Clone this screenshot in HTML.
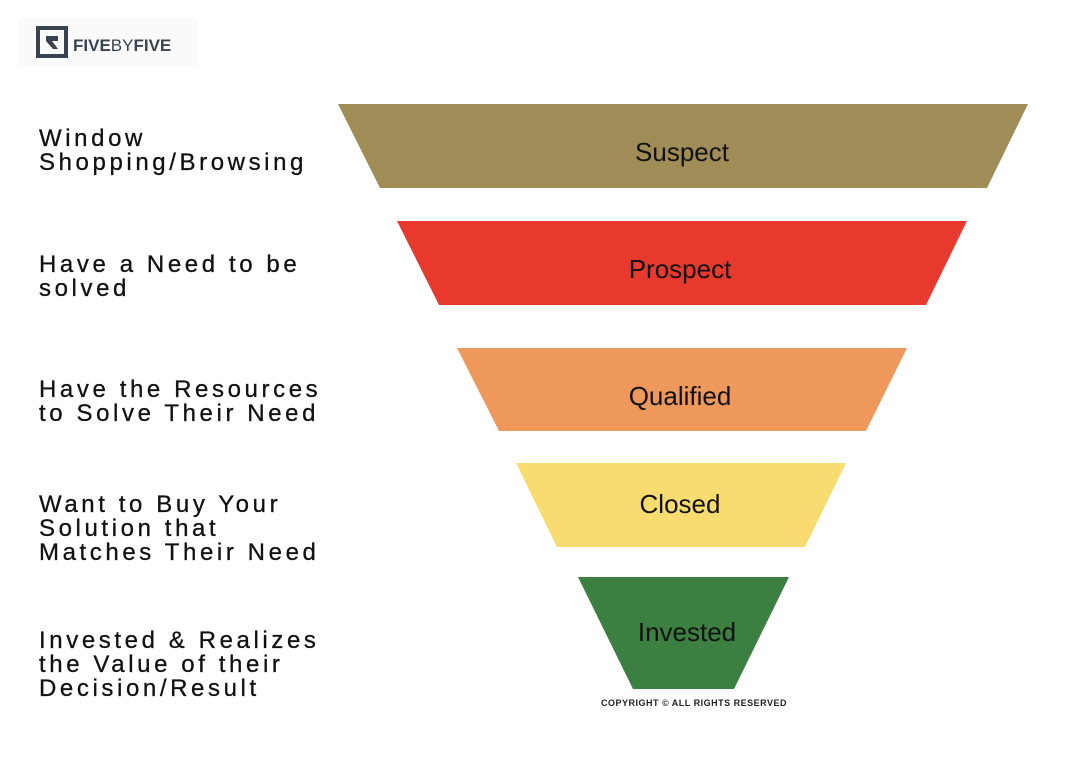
<!DOCTYPE html>
<html><head><meta charset="utf-8"><style>
body{margin:0;width:1082px;height:762px;background:#fff;position:relative;overflow:hidden;font-family:"Liberation Sans",sans-serif}
.l{position:absolute;left:39px;font-size:24px;line-height:24px;letter-spacing:3.6px;color:#111;white-space:nowrap;-webkit-text-stroke:0.3px #111}
svg{position:absolute;left:0;top:0}
</style></head><body>
<svg width="1082" height="762">
<rect x="18" y="18" width="180" height="48" fill="#fafafa"/>
<rect x="38" y="28" width="28" height="28" fill="none" stroke="#3a4450" stroke-width="4"/>
<path d="M46 36 H58 V41 H52 L58 49 H53 L46 41 Z" fill="#3a4450"/>
<text x="73" y="51" font-family="Liberation Sans" font-size="17" fill="#3a4450" font-weight="bold">FIVE<tspan font-weight="normal">BY</tspan>FIVE</text>
<polygon points="338,104 1028,104 987,188 380,188" fill="#a08c56"/>
<polygon points="397,221 967,221 926,305 439,305" fill="#e8392e"/>
<polygon points="457,348 907,348 866,431 499,431" fill="#ef985b"/>
<polygon points="516,463 846,463 805,547 557,547" fill="#f8dc6f"/>
<polygon points="578,577 789,577 734,689 633,689" fill="#3b7f41"/>
<g font-family="Liberation Sans" font-size="26" fill="#111" text-anchor="middle">
<text x="682" y="161">Suspect</text>
<text x="680" y="278">Prospect</text>
<text x="680" y="405">Qualified</text>
<text x="680" y="513">Closed</text>
<text x="687" y="641">Invested</text>
</g>
<text x="694" y="706" font-family="Liberation Sans" font-size="9" font-weight="bold" fill="#222" text-anchor="middle" letter-spacing="0.5">COPYRIGHT © ALL RIGHTS RESERVED</text>
</svg>
<div class="l" style="top:127px">Window<br>Shopping/Browsing</div>
<div class="l" style="top:253px">Have a Need to be<br>solved</div>
<div class="l" style="top:378px">Have the Resources<br>to Solve Their Need</div>
<div class="l" style="top:493px">Want to Buy Your<br>Solution that<br>Matches Their Need</div>
<div class="l" style="top:629px">Invested &amp; Realizes<br>the Value of their<br>Decision/Result</div>
</body></html>
